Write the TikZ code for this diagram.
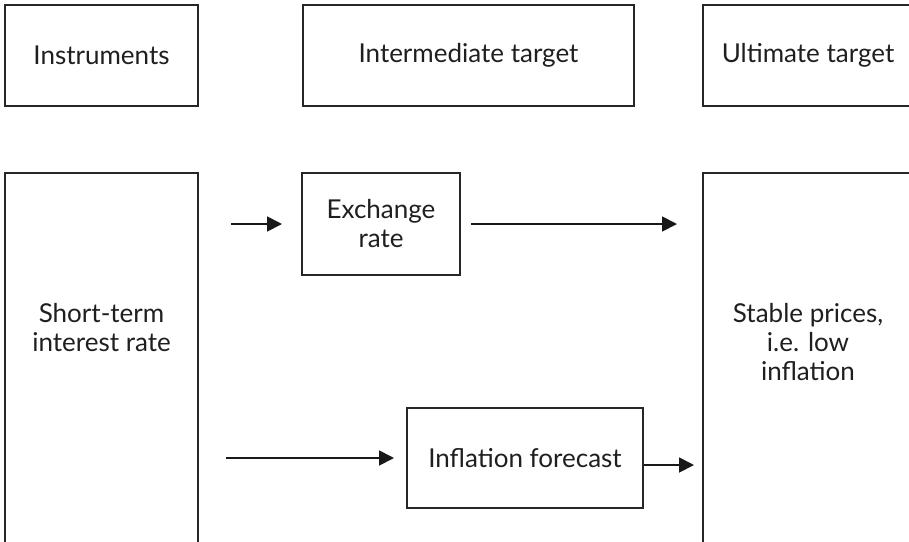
\documentclass[tikz,border=0pt]{standalone}
\usepackage{fontspec}
\setmainfont{Lato}
\usetikzlibrary{arrows.meta}

\begin{document}
\begin{tikzpicture}
	[
	x=0.5pt, y=-0.5pt,
	align=center,
	font=\fontsize{13}{14.5}\selectfont,
	text=black!88,
	box/.style={draw=black!85, line width=1pt, inner sep=0pt},
	txt/.style={inner sep=0pt},
	arr/.style={draw=black!90, line width=0.9pt, -{Triangle[length=7.5pt,width=7.5pt]}},
	]
	\useasboundingbox (0,0) rectangle (909,541);
	\clip (0,0) rectangle (909,541);

		% headings
		\node[box, minimum width=96.5pt,  minimum height=50.5pt] (inst) at 	( 101.5,  55.5 ) {Instruments};
		\node[box, minimum width=165.5pt, minimum height=50.5pt] (inter) at 	( 468.5,  55.5 ) {Intermediate target};
		\node[box, minimum width=105pt,   minimum height=50.5pt] (ulti) at 	( 808.0,  55.5 ) {Ultimate target};

		% left-hand side
		\node[box, minimum width=96.5pt, minimum height=213.5pt] (rbox) at 	( 101.5, 386.5 ) {};
		\node[txt] (rate) at 		( 101.5, 328.0 ) {Short-term\\interest rate};

		% middle
		\node[box, minimum width=79pt,  minimum height=51pt] (exch) at 	( 381.0, 224.0 ) {Exchange\\rate};
		\node[box, minimum width=118pt, minimum height=50pt] (fcst) at 	( 525.0, 458.0 ) {Inflation forecast};

		% right-hand side
		\node[box, minimum width=105pt, minimum height=213.5pt] (pbox) at 	( 808.0, 386.5 ) {};
		\node[txt] (prices) at 		( 808.0, 342.0 ) {Stable prices,\\i.e. low\\inflation};

		\coordinate (fo) at ([yshift=-3.5pt]fcst.east);

		\draw[arr, shorten <=16pt, shorten >=9.5pt] (rbox.east |- exch.west) -- (exch.west);
		\draw[arr, shorten <=5pt,  shorten >=12.5pt] (exch.east) -- (pbox.west |- exch.east);
		\draw[arr, shorten <=13.5pt, shorten >=6pt] (rbox.east |- fcst.west) -- (fcst.west);
		\draw[arr, shorten >=4pt] (fo) -- (pbox.west |- fo);

	\end{tikzpicture}
\end{document}
